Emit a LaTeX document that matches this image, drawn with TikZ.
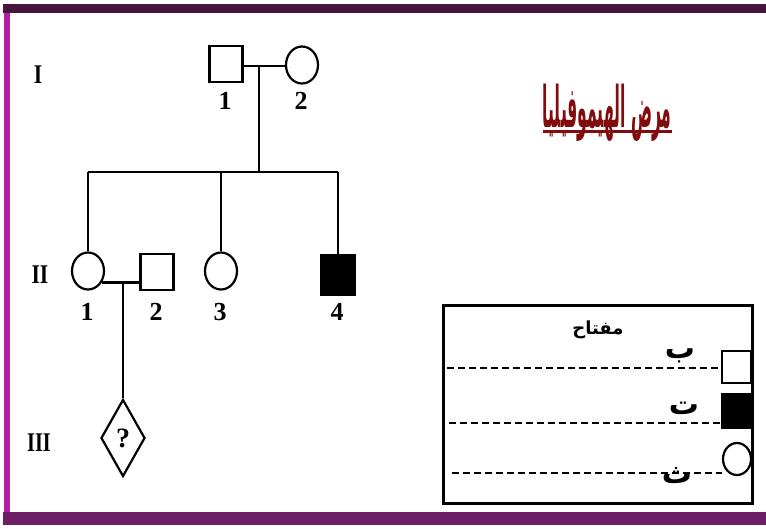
\documentclass[tikz,border=0pt]{standalone}
\usepackage{fontspec}
\usepackage{graphicx}
\usetikzlibrary{shapes.geometric}
\setmainfont{Liberation Serif}
\newfontfamily\arabicfont[Script=Arabic]{DejaVu Sans}
\TeXXeTstate=1
\definecolor{frametop}{RGB}{70,20,60}
\definecolor{frameleft}{RGB}{180,30,160}
\definecolor{framebot}{RGB}{110,30,100}
\definecolor{titlered}{RGB}{130,12,12}
\tikzset{
  lw/.style={line width=2.2pt},
  msq/.style={draw, lw, rectangle, minimum width=33pt, minimum height=36pt, inner sep=0pt},
  fsq/.style={msq, fill=black},
  fcirc/.style={draw, lw, ellipse, minimum width=32pt, minimum height=37pt, inner sep=0pt},
  num/.style={font=\fontsize{26}{28}\selectfont\bfseries, inner sep=0pt},
  gen/.style={font=\fontsize{27}{29}\selectfont\bfseries, inner sep=0pt},
  unk/.style={draw, lw, diamond, minimum width=44pt, minimum height=77pt, inner sep=0pt, font=\fontsize{28}{30}\selectfont\bfseries},
  link/.style={lw},
  keyline/.style={line width=2.7pt, dash pattern=on 7pt off 4pt},
  arl/.style={font=\arabicfont\fontsize{30}{34}\selectfont\bfseries, inner sep=0pt}
}
\begin{document}
\begin{tikzpicture}[x=1pt,y=-1pt]
\useasboundingbox (0,0) rectangle (766,528);
\fill[white] (0,0) rectangle (766,528);
% frame
\draw[frameleft, line width=6pt] (7,8) -- (7,518);
\draw[frametop, line width=9pt] (3,8) -- (766,8);
\draw[framebot, line width=13pt] (3,518) -- (766,518);
% generation labels
\node[gen] (g1) at (38,75) {\scalebox{0.8}[1]{I}};
\node[gen] (g2) at (40,275) {\scalebox{0.8}[1]{II}};
\node[gen] (g3) at (39,443) {\scalebox{0.75}[1]{III}};
% generation I
\node[msq] (I1) at (226,64) {};
\node[fcirc] (I2) at (302,65) {};
\node[num] (lI1) at (225,101) {1};
\node[num] (lI2) at (301,101) {2};
\coordinate (m1) at (259,66);
\coordinate (d1) at (259,172);
\draw[link] (I1.east |- m1) -- (I2.west |- m1);
\draw[link] (m1) -- (d1);
% sibship
\coordinate (sL) at (88,172);
\coordinate (s3) at (221,172);
\coordinate (sR) at (338,172);
\draw[link] (sL) -- (sR);
% generation II
\node[fcirc] (II1) at (88,271) {};
\node[msq] (II2) at (157,272) {};
\node[fcirc] (II3) at (221,271) {};
\node[fsq, minimum height=39pt] (II4) at (338,275) {};
\node[num] (lII1) at (87,312) {1};
\node[num] (lII2) at (156,312) {2};
\node[num] (lII3) at (220,312) {3};
\node[num] (lII4) at (337,312) {4};
\draw[link] (sL) -- (II1.north);
\draw[link] (s3) -- (II3.north);
\draw[link] (sR) -- (II4.north);
\coordinate (m2) at (123,281);
\draw[link] (II1.-40) -- (II1.-40 -| II2.west);
% generation III
\node[unk] (III1) at (123,438) {?};
\draw[link] (m2) -- (III1.north);
% title
\node[font=\arabicfont\fontsize{26}{30}\selectfont\bfseries, text=titlered, inner sep=0pt, anchor=base] (title) at (607,127) {\scalebox{0.6}[2.2]{\beginR مرض الهيموفيليا\endR}};
\draw[titlered, line width=3pt] (543,131) -- (672,131);
% key
\node[draw, line width=3pt, minimum width=309pt, minimum height=198pt, inner sep=0pt] (key) at (598,404) {};
\node[font=\arabicfont\fontsize{18}{21}\selectfont\bfseries, inner sep=0pt] (keyt) at (598,330) {\beginR مفتاح\endR};
\node[msq, minimum width=29pt, minimum height=32pt] (Ksq) at (736.5,367) {};
\node[fsq, minimum width=29pt, minimum height=34pt] (Kfsq) at (736.5,411) {};
\node[fcirc, minimum width=28pt, minimum height=32pt] (Kcirc) at (737,459) {};
\coordinate (k1) at (447,368);
\coordinate (k2) at (449,423);
\coordinate (k3) at (452,473);
\draw[keyline] (k1) -- (k1 -| Ksq.west);
\draw[keyline] (k2) -- (k2 -| Kfsq.west);
\draw[keyline] (k3) -- (k3 -| Kcirc.west);
\node[arl] (lb) at (680,356) {\beginR ب\endR};
\node[arl] (lt) at (684,408) {\beginR ت\endR};
\node[arl] (lth) at (677,476) {\beginR ث\endR};
\end{tikzpicture}
\end{document}
